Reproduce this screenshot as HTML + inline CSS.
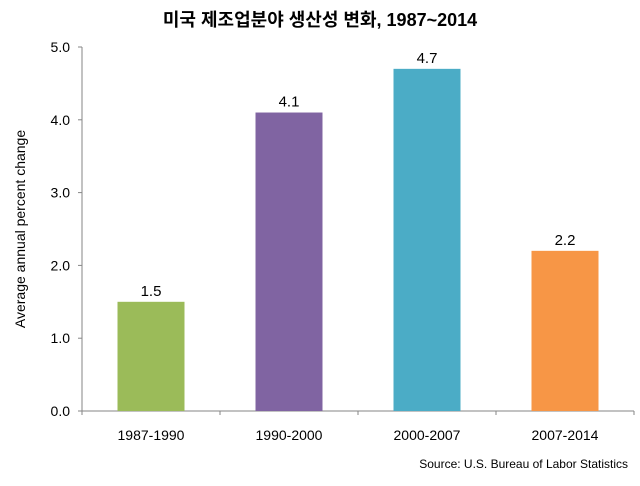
<!DOCTYPE html>
<html><head><meta charset="utf-8"><style>
body{margin:0;background:#fff;width:640px;height:481px;overflow:hidden;font-family:"Liberation Sans","Noto Sans CJK KR",sans-serif}
</style></head><body>
<svg width="640" height="481" xmlns="http://www.w3.org/2000/svg">
<text x="320" y="26" text-anchor="middle" font-size="18" font-weight="bold" fill="#000" font-family="Liberation Sans, Noto Sans CJK KR, sans-serif">미국 제조업분야 생산성 변화, 1987~2014</text>
<text transform="translate(25,229) rotate(-90)" text-anchor="middle" font-size="14" fill="#000">Average annual percent change</text>
<g id="plot"></g>
<text x="628" y="468" text-anchor="end" font-size="12" fill="#000">Source: U.S. Bureau of Labor Statistics</text>
</svg>
<script>
const categories=["1987-1990","1990-2000","2000-2007","2007-2014"];
const values=[1.5,4.1,4.7,2.2];
const labels=["1.5","4.1","4.7","2.2"];
const ticks=[0,1,2,3,4,5];
const tickLabels=["0.0","1.0","2.0","3.0","4.0","5.0"];
const colors=["#9bbb59","#8064a2","#4bacc6","#f79646"];
const NS="http://www.w3.org/2000/svg";
const g=document.getElementById("plot");
const x0=82,x1=634,y0=411,y1=47,ymax=5;
const y=v=>y0-(v/ymax)*(y0-y1);
const bw=(x1-x0)/categories.length;
const xc=i=>x0+bw*(i+0.5);
function mk(t,a){const e=document.createElementNS(NS,t);for(const k in a)e.setAttribute(k,a[k]);g.appendChild(e);return e;}
let ax=mk("line",{x1:x0,y1:y1,x2:x0,y2:y0,stroke:"#868686"});


let bx=mk("line",{x1:x0,y1:y0,x2:x1,y2:y0,stroke:"#868686"});


ticks.forEach((t,i)=>{
 let tk=mk("line",{x1:x0-4,y1:y(t),x2:x0,y2:y(t),stroke:"#868686"});
 
 
 let tl=mk("text",{x:x0-12,y:y(t)+5,"text-anchor":"end","font-size":"14",fill:"#000"});
 tl.textContent=tickLabels[i];
 
 
});
for(let i=0;i<=categories.length;i++){
 let tk=mk("line",{x1:x0+bw*i,y1:y0,x2:x0+bw*i,y2:y0+4,stroke:"#868686"});
 
 
}
categories.forEach((c,i)=>{
 const w=67;
 let r=mk("rect",{x:xc(i)-w/2,y:y(values[i]),width:w,height:y0-y(values[i]),fill:colors[i]});
 
 
 let v=mk("text",{x:xc(i),y:y(values[i])-6,"text-anchor":"middle","font-size":"15",fill:"#000"});
 v.textContent=labels[i];
 
 
 let cl=mk("text",{x:xc(i),y:y0+29,"text-anchor":"middle","font-size":"14",fill:"#000"});
 cl.textContent=c;
 
 
});
</script>
</body></html>
